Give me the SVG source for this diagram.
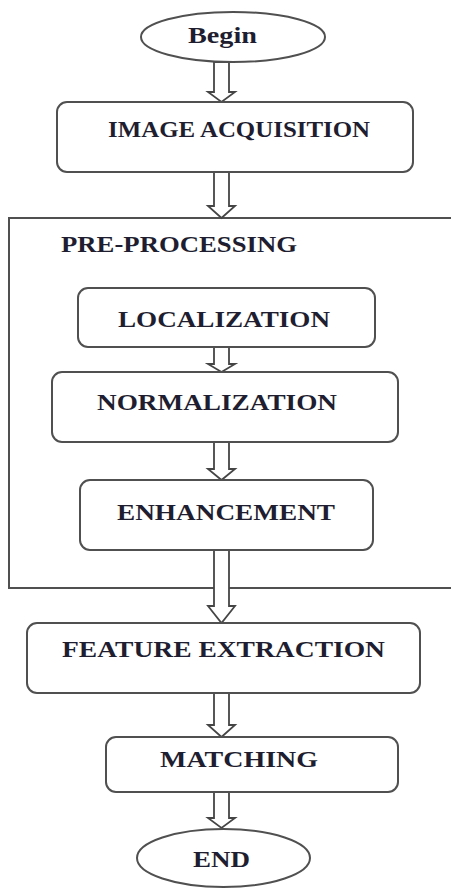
<svg xmlns="http://www.w3.org/2000/svg" width="451" height="888" viewBox="0 0 451 888">
<style>
.box{fill:#fff;stroke:#505050;stroke-width:2}
.frame{fill:none;stroke:#505050;stroke-width:2}
.arr{fill:#fff;stroke:#454545;stroke-width:1.8;stroke-linejoin:miter}
.t{font-family:'Liberation Serif','DejaVu Serif',serif;font-weight:700;font-size:23px;fill:#1e1e30}
</style>
<rect width="451" height="888" fill="#fff"/>
<g id="preprocessing">
<path class="frame" d="M460 218 H9 V588 H460"/>
<text class="t" x="61" y="252" textLength="236" lengthAdjust="spacingAndGlyphs">PRE-PROCESSING</text>
</g>
<g id="connectors">
<polygon class="arr" points="214,62 229,62 229,92 235,92 221.5,102 208,92 214,92"/>
<polygon class="arr" points="214,172 229,172 229,206 235,206 221.5,218 208,206 214,206"/>
<polygon class="arr" points="214,347 229,347 229,364 235,364 221.5,372 208,364 214,364"/>
<polygon class="arr" points="214,442 229,442 229,469 235,469 221.5,480 208,469 214,469"/>
<polygon class="arr" points="214,550 229,550 229,606 235,606 221.5,623 208,606 214,606"/>
<polygon class="arr" points="214,693 229,693 229,725 235,725 221.5,737 208,725 214,725"/>
<polygon class="arr" points="214,792 229,792 229,818 235,818 221.5,828 208,818 214,818"/>
</g>
<g id="begin">
<ellipse class="box" cx="233" cy="37" rx="92" ry="25"/>
<text class="t" x="188" y="43" textLength="69" lengthAdjust="spacingAndGlyphs">Begin</text>
</g>
<g id="image-acquisition">
<rect class="box" x="57" y="102" width="356" height="70" rx="10"/>
<text class="t" x="108" y="137" textLength="262" lengthAdjust="spacingAndGlyphs">IMAGE ACQUISITION</text>
</g>
<g id="localization">
<rect class="box" x="78" y="288" width="297" height="59" rx="10"/>
<text class="t" x="118" y="327" textLength="212" lengthAdjust="spacingAndGlyphs">LOCALIZATION</text>
</g>
<g id="normalization">
<rect class="box" x="52" y="372" width="346" height="70" rx="10"/>
<text class="t" x="97" y="410" textLength="240" lengthAdjust="spacingAndGlyphs">NORMALIZATION</text>
</g>
<g id="enhancement">
<rect class="box" x="80" y="480" width="293" height="70" rx="10"/>
<text class="t" x="117" y="520" textLength="218" lengthAdjust="spacingAndGlyphs">ENHANCEMENT</text>
</g>
<g id="feature-extraction">
<rect class="box" x="27" y="623" width="393" height="70" rx="10"/>
<text class="t" x="62" y="657" textLength="323" lengthAdjust="spacingAndGlyphs">FEATURE EXTRACTION</text>
</g>
<g id="matching">
<rect class="box" x="106" y="737" width="292" height="55" rx="10"/>
<text class="t" x="160" y="767" textLength="158" lengthAdjust="spacingAndGlyphs">MATCHING</text>
</g>
<g id="end">
<ellipse class="box" cx="223.5" cy="858" rx="86.5" ry="29"/>
<text class="t" x="193" y="867" textLength="57" lengthAdjust="spacingAndGlyphs">END</text>
</g>
</svg>
